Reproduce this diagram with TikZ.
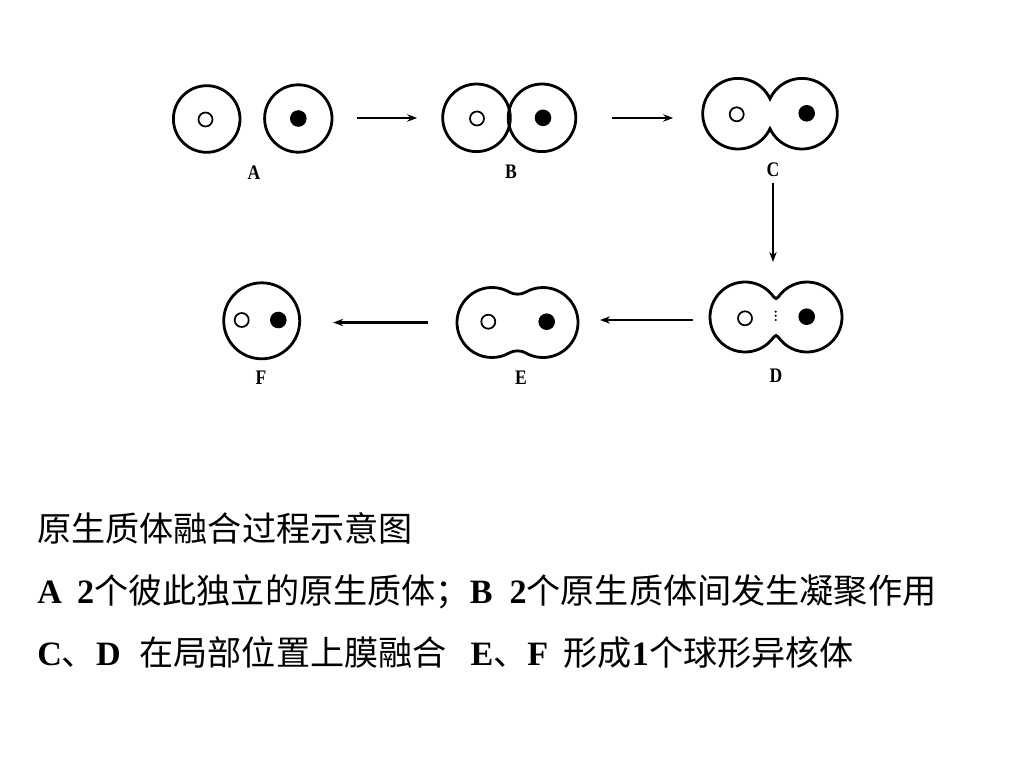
\documentclass[tikz,border=0pt]{standalone}
\usepackage{fontspec}
\setmainfont{Liberation Serif}
\newfontfamily\cjk{Noto Sans CJK SC}
\usetikzlibrary{arrows, arrows.meta}
\newcommand{\zh}[1]{{\cjk\mdseries #1}}
\newcommand{\slab}[1]{\scalebox{0.85}[1]{#1}}

\begin{document}
\begin{tikzpicture}[x=0.75pt, y=-0.75pt,
		cell/.style={line width=2.1pt},
		nuc/.style={line width=1.3pt},
		arr/.style={-{Stealth[length=7.5pt,width=5.5pt]}, line width=1.6pt},
		stage/.style={inner sep=0pt, outer sep=0pt},
		lab/.style={font=\bfseries\fontsize{15.5}{16}\selectfont, inner sep=0pt},
		txt/.style={anchor=base west, inner sep=0pt, font=\bfseries\fontsize{25.6}{30}\selectfont}]
			\useasboundingbox (0,0) rectangle (1024,768);
			% stages
			\node[stage, minimum width=119.25pt, minimum height=49.5pt] (A) at (252.5,118) {};
			\node[stage, minimum width=99.75pt, minimum height=51pt] (B) at (509,118) {};
			\node[stage, minimum width=101.25pt, minimum height=53.25pt] (C) at (770,113.7) {};
			\node[stage, minimum width=99pt, minimum height=52.5pt] (D) at (776,317) {};
			\node[stage, minimum width=90.75pt, minimum height=53.25pt] (E) at (517.5,322.5) {};
			\node[stage, minimum width=57.75pt, minimum height=56.25pt] (F) at (261.7,320.8) {};
			% labels
			\node[lab] (labA) at (254,173) {\slab{A}};
			\node[lab] (labB) at (511,172) {\slab{B}};
			\node[lab] (labC) at (773,170) {\slab{C}};
			\node[lab] (labD) at (776,376) {\slab{D}};
			\node[lab] (labE) at (521,378) {\slab{E}};
			\node[lab] (labF) at (261,378) {\slab{F}};
			% draw A
			\draw[cell] (206.7,119) circle (33.3);
			\draw[cell] (298.3,118.5) circle (33.7);
			\draw[nuc] (205.5,119.5) circle (7);
			\fill (298.3,118.5) circle (8.3);
			% draw B
			\draw[cell] (476.5,117.8) circle (33.8);
			\draw[cell] (542,117.8) circle (33.8);
			\draw[nuc] (477,118.5) circle (7);
			\fill (543,117.8) circle (8.3);
			% draw C
			\draw[cell] (738,113.7) ++(-25:35.3) arc (-25:-335:35.3) arc (155:-155:35.3) -- cycle;
			\draw[nuc] (736.7,114.3) circle (7);
			\fill (806.7,113.3) circle (8.3);
			% draw D
			\draw[cell] (745,317) ++(-35:35) arc (-35:-325:35)
				.. controls (775.2,334.9) and (776.8,334.9) .. (778.33,337.08)
				arc (145:-145:35) .. controls (776.8,299.1) and (775.2,299.1) .. cycle;
			\draw[nuc] (745,318.3) circle (7);
			\fill (806.7,316.7) circle (8.3);
			\fill (775.7,311.7) circle (1.2);
			\fill (775.7,315.7) circle (1.2);
			\fill (775.7,320) circle (1.2);
			% draw E
			\draw[cell] (492,322.5) ++(-60:35) arc (-60:-300:35)
				.. controls (514,350.2) and (521,350.2) .. (525.5,352.81)
				arc (120:-120:35) .. controls (521,294.8) and (514,294.8) .. cycle;
			\draw[nuc] (488.3,321.7) circle (7);
			\fill (546.7,321.7) circle (8.3);
			% draw F
			\draw[cell] (261.7,320.8) circle (38);
			\draw[nuc] (241.7,320) circle (7);
			\fill (278.3,320) circle (8.3);
			% add arrows
			\draw[arr, shorten <=18.75pt, shorten >=19pt] (A) -- (B);
			\draw[arr, shorten <=27.4pt, shorten >=22pt] (B.east) -- (B.east -| C.west);
			\draw[arr, shorten <=4pt, shorten >=15pt] (labC.south) -- (labC.south |- D.north);
			\draw[arr, shorten <=12.75pt, shorten >=16.5pt] ([yshift=-2.25pt]D.west) -- ([yshift=-2.25pt]D.west -| E.east);
			\draw[arr, shorten <=21.75pt, shorten >=24.75pt] (E.west) -- (E.west -| F.east);
			% caption
			\node[txt] (title) at (37,541) {\zh{原生质体融合过程示意图}};
			\node[txt] (lineAB) at (37,603) {A\hspace{0.45em}2\zh{个彼此独立的原生质体；}B\hspace{0.5em}2\zh{个原生质体间发生凝聚作用}};
			\node[txt] (lineCF) at (37,665) {C\zh{、}D\hspace{0.55em}\zh{在局部位置上膜融合}\hspace{0.7em}E\zh{、}F\hspace{0.45em}\zh{形成}1\zh{个球形异核体}};
		\end{tikzpicture}
\end{document}
